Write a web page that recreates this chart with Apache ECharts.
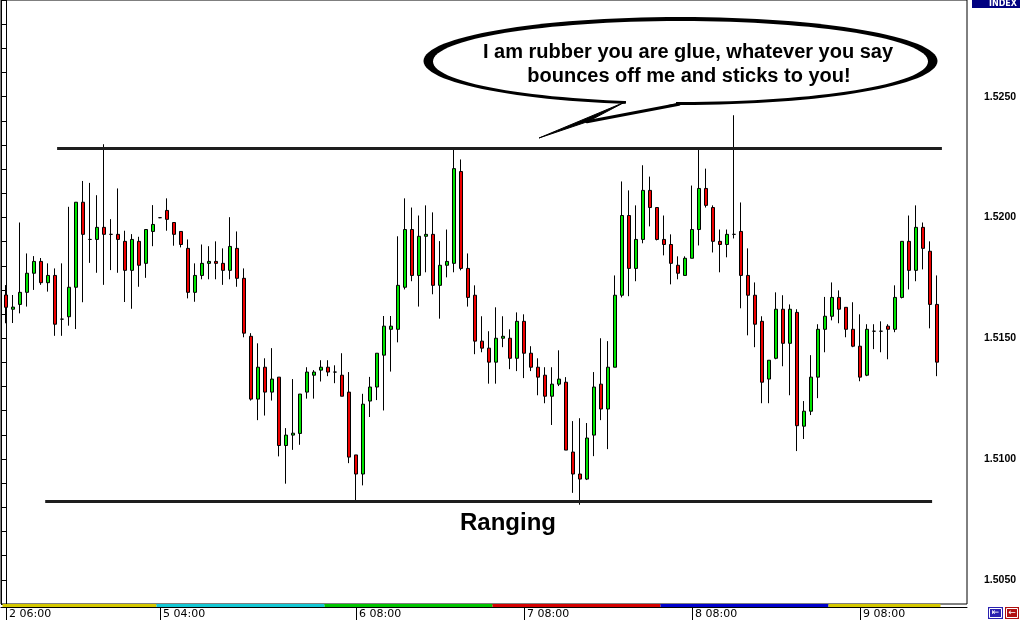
<!DOCTYPE html>
<html><head><meta charset="utf-8">
<script src="https://cdn.jsdelivr.net/npm/echarts@6/dist/echarts.min.js"></script>
<style>html,body{margin:0;padding:0;background:#fff}#c{width:1020px;height:620px}</style>
</head><body><div id="c"></div>
<script>
// ---- data (hourly candles) ----
const opens = [1.51679,1.51620,1.51640,1.51690,1.51769,1.51818,1.51730,1.51760,1.51579,1.51589,
1.51711,1.52063,1.51909,1.51909,1.51959,1.51930,1.51930,1.51901,1.51781,1.51901,
1.51810,1.51942,1.51999,1.52029,1.51979,1.51942,1.51872,1.51690,1.51760,1.51810,
1.51818,1.51810,1.51781,1.51872,1.51748,1.51508,1.51248,1.51380,1.51277,1.51339,
1.51056,1.51099,1.51106,1.51277,1.51347,1.51368,1.51380,1.51360,1.51347,1.51277,
1.51017,1.50938,1.51240,1.51298,1.51430,1.51537,1.51537,1.51711,1.51950,1.51760,
1.51922,1.51930,1.51719,1.51802,1.51810,1.52190,1.51789,1.51678,1.51488,1.51459,
1.51401,1.51500,1.51500,1.51417,1.51570,1.51438,1.51380,1.51347,1.51260,1.51310,
1.51318,1.51029,1.50938,1.50917,1.51099,1.51310,1.51207,1.51380,1.51678,1.52008,
1.51789,1.51909,1.52112,1.52041,1.51909,1.51888,1.51802,1.51760,1.51831,1.51950,
1.52120,1.52041,1.51901,1.51888,1.51930,1.51942,1.51760,1.51678,1.51570,1.51331,
1.51417,1.51620,1.51479,1.51607,1.51136,1.51198,1.51339,1.51537,1.51591,1.51669,
1.51628,1.51537,1.51467,1.51347,1.51529,1.51529,1.51550,1.51537,1.51669,1.51901,
1.51781,1.51959,1.51860,1.51640];
const highs = [1.51720,1.51679,1.51979,1.51851,1.51840,1.51832,1.51810,1.51789,1.51810,1.52044,
1.52063,1.52151,1.52143,1.52092,1.52303,1.51993,1.52120,1.51945,1.51931,1.51920,
1.51950,1.52051,1.52001,1.52079,1.51979,1.51942,1.51909,1.51810,1.51888,1.51881,
1.51901,1.51872,1.52001,1.51942,1.51789,1.51521,1.51479,1.51417,1.51459,1.51339,
1.51128,1.51331,1.51269,1.51380,1.51368,1.51409,1.51409,1.51388,1.51438,1.51360,
1.51017,1.51270,1.51340,1.51438,1.51592,1.51592,1.51922,1.52079,1.52041,1.52008,
1.52050,1.52021,1.51902,1.51950,1.52285,1.52240,1.51851,1.51719,1.51591,1.51529,
1.51628,1.51591,1.51537,1.51607,1.51599,1.51467,1.51417,1.51380,1.51380,1.51450,
1.51339,1.51157,1.51169,1.51149,1.51360,1.51500,1.51488,1.51760,1.52149,1.52112,
1.52050,1.52216,1.52169,1.52041,1.52008,1.51930,1.51839,1.51839,1.52132,1.52281,
1.52202,1.52050,1.51950,1.51950,1.52423,1.52062,1.51872,1.51731,1.51591,1.51409,
1.51690,1.51678,1.51640,1.51620,1.51240,1.51430,1.51558,1.51671,1.51731,1.51698,
1.51628,1.51649,1.51599,1.51558,1.51558,1.51570,1.51558,1.51719,1.51901,1.52008,
1.52050,1.51979,1.51901,1.51760];
const lows = [1.51562,1.51563,1.51603,1.51631,1.51700,1.51721,1.51693,1.51510,1.51510,1.51552,
1.51538,1.51649,1.51812,1.51771,1.51721,1.51782,1.51771,1.51650,1.51622,1.51713,
1.51750,1.51881,1.51997,1.51945,1.51883,1.51876,1.51665,1.51651,1.51744,1.51744,
1.51744,1.51721,1.51744,1.51713,1.51504,1.51242,1.51161,1.51180,1.51242,1.51011,
1.50898,1.51038,1.51059,1.51250,1.51250,1.51321,1.51343,1.51314,1.51260,1.50983,
1.50821,1.50891,1.51174,1.51244,1.51201,1.51362,1.51483,1.51702,1.51736,1.51631,
1.51773,1.51682,1.51581,1.51752,1.51773,1.51781,1.51631,1.51434,1.51442,1.51312,
1.51312,1.51463,1.51372,1.51364,1.51335,1.51364,1.51264,1.51231,1.51141,1.51302,
1.51037,1.50860,1.50811,1.50913,1.51012,1.51161,1.51041,1.51380,1.51669,1.51674,
1.51736,1.51893,1.51963,1.51905,1.51843,1.51723,1.51744,1.51760,1.51831,1.51884,
1.52041,1.51855,1.51773,1.51835,1.51913,1.51624,1.51512,1.51463,1.51231,1.51231,
1.51413,1.51384,1.51264,1.51033,1.51083,1.51182,1.51252,1.51442,1.51574,1.51562,
1.51504,1.51463,1.51322,1.51343,1.51455,1.51442,1.51413,1.51525,1.51665,1.51702,
1.51736,1.51785,1.51541,1.51343];
const closes = [1.51628,1.51629,1.51690,1.51769,1.51818,1.51730,1.51760,1.51558,1.51579,1.51711,
1.52063,1.51930,1.51909,1.51959,1.51930,1.51930,1.51909,1.51781,1.51909,1.51802,
1.51950,1.51971,1.51999,1.51992,1.51930,1.51888,1.51690,1.51760,1.51810,1.51818,
1.51810,1.51781,1.51880,1.51748,1.51521,1.51248,1.51380,1.51277,1.51331,1.51056,
1.51099,1.51107,1.51269,1.51360,1.51360,1.51380,1.51360,1.51360,1.51260,1.51008,
1.50938,1.51227,1.51298,1.51438,1.51550,1.51550,1.51719,1.51950,1.51760,1.51922,
1.51930,1.51719,1.51802,1.51818,1.52202,1.51789,1.51669,1.51488,1.51459,1.51401,
1.51500,1.51508,1.51417,1.51570,1.51438,1.51380,1.51339,1.51260,1.51310,1.51331,
1.51037,1.50938,1.50917,1.51087,1.51298,1.51207,1.51380,1.51678,1.52008,1.51789,
1.51909,1.52112,1.52041,1.51909,1.51888,1.51810,1.51769,1.51831,1.51950,1.52120,
1.52050,1.51901,1.51888,1.51930,1.51930,1.51760,1.51678,1.51558,1.51318,1.51409,
1.51620,1.51479,1.51620,1.51138,1.51198,1.51339,1.51537,1.51591,1.51669,1.51620,
1.51537,1.51467,1.51339,1.51537,1.51529,1.51529,1.51537,1.51669,1.51901,1.51781,
1.51959,1.51872,1.51640,1.51401];
const timeTickIndex = [0, 22, 50, 74, 98, 122];
const timeTickLabels = ['2 06:00', '5 04:00', '6 08:00', '7 08:00', '8 08:00', '9 08:00'];
const priceLabels = ['1.5050', '1.5100', '1.5150', '1.5200', '1.5250'];
const sessionFirst = [0, 22, 46, 70, 94, 118];
const sessionLast = [21, 45, 69, 93, 117, 133];
const resistanceLevel = 1.52285;
const supportLevel = 1.50827;
const bubbleLines = ['I am rubber you are glue, whatever you say', 'bounces off me and sticks to you!'];
const rangeLabel = 'Ranging';

// ---- chart ----
const sessionColors = ['#d4c800', '#14c8d4', '#00c400', '#d40000', '#0000cc', '#d4c800'];
const xMin = -5 / 7, xMax = -5 / 7 + 138;
const candleData = opens.map((o, i) => [i, o, closes[i], lows[i], highs[i]]);

const chart = echarts.init(document.getElementById('c'), null, { renderer: 'canvas' });
chart.setOption({
  animation: false,
  backgroundColor: '#fff',
  grid: [
    { left: 1, right: 53, top: 0, height: 604, show: true, borderColor: '#000', borderWidth: 1, backgroundColor: '#fff' },
    { left: 1, right: 53, top: 604, height: 3 }
  ],
  xAxis: [
    { type: 'value', gridIndex: 0, min: xMin, max: xMax, show: false },
    { type: 'value', gridIndex: 1, min: xMin, max: xMax, position: 'bottom',
      splitLine: { show: false },
      axisLine: { show: true, onZero: false, lineStyle: { color: '#000', width: 1 } },
      axisTick: { show: true, customValues: timeTickIndex, length: 13, lineStyle: { color: '#000' } },
      axisLabel: { show: true, customValues: timeTickIndex, align: 'left', margin: 2, padding: [0, 0, 0, 3],
        fontFamily: 'DejaVu Sans', fontSize: 11, color: '#000',
        formatter: v => { const k = timeTickIndex.indexOf(Math.round(v)); return k >= 0 ? timeTickLabels[k] : ''; } }
    }
  ],
  yAxis: [
    { type: 'value', gridIndex: 0, position: 'right', min: 1.504, max: 1.529, interval: 0.001,
      splitLine: { show: false },
      axisLine: { show: true, lineStyle: { color: '#000' } },
      axisTick: { show: true, inside: true, length: 4, lineStyle: { color: '#000' } },
      axisLabel: { margin: 17, color: '#000', fontFamily: 'Liberation Sans', fontWeight: 'bold', fontSize: 10.5,
        showMinLabel: true, showMaxLabel: true,
        formatter: v => { const s = v.toFixed(4); return priceLabels.indexOf(s) >= 0 ? s : ''; } } },
    { type: 'value', gridIndex: 0, position: 'left', min: 1.504, max: 1.529, interval: 0.001,
      splitLine: { show: false },
      axisLine: { show: true, lineStyle: { color: '#000' } },
      axisTick: { show: true, inside: true, length: 4, lineStyle: { color: '#000' } },
      axisLabel: { show: false } },
    { type: 'value', gridIndex: 1, min: 0, max: 1, show: false }
  ],
  series: [
    { type: 'candlestick', xAxisIndex: 0, yAxisIndex: 0, data: candleData,
      encode: { x: 0, y: [1, 2, 3, 4] },
      barWidth: 4,
      itemStyle: { color: '#00e400', color0: '#ee0000', borderColor: '#000', borderColor0: '#000', borderWidth: 1 },
      markLine: {
        silent: true, symbol: 'none', label: { show: false },
        lineStyle: { color: '#1e1e1e', width: 3, type: 'solid' },
        data: [
          [{ coord: [7.3, resistanceLevel] }, { coord: [133.7, resistanceLevel] }],
          [{ coord: [5.6, supportLevel] }, { coord: [132.3, supportLevel] }]
        ]
      }
    },
    { type: 'line', xAxisIndex: 1, yAxisIndex: 2, data: [], symbol: 'none', silent: true,
      markArea: { silent: true,
        data: sessionFirst.map((s, k) => [
          { xAxis: s - 0.5, yAxis: 0, itemStyle: { color: sessionColors[k] } },
          { xAxis: sessionLast[k] + 0.5, yAxis: 1 }
        ]) } }
  ],
  graphic: [
    { type: 'ellipse', z: 100, shape: { cx: 680.5, cy: 61, rx: 257, ry: 44 }, style: { fill: '#000' } },
    { type: 'ellipse', z: 102, shape: { cx: 680.5, cy: 61.5, rx: 247.5, ry: 40.5 }, style: { fill: '#fff' } },
    { type: 'polygon', z: 103, shape: { points: [[626, 96], [626, 103.5], [591, 119.5], [676, 103.5], [676, 96]] },
      style: { fill: '#fff' } },
    { type: 'polygon', z: 104, shape: { points: [[625, 102], [539, 138], [588, 121.5]] },
      style: { fill: '#000', stroke: '#000', lineWidth: 1, lineJoin: 'miter' } },
    { type: 'polyline', z: 104, shape: { points: [[587, 121.8], [679, 104.2]] },
      style: { stroke: '#000', lineWidth: 3, lineCap: 'round' } },
    { type: 'text', z: 105, x: 688, y: 52, style: { text: bubbleLines[0], font: 'bold 20px "Liberation Sans"', fill: '#000', align: 'center', verticalAlign: 'middle' } },
    { type: 'text', z: 105, x: 689, y: 76, style: { text: bubbleLines[1], font: 'bold 20px "Liberation Sans"', fill: '#000', align: 'center', verticalAlign: 'middle' } },
    { type: 'text', z: 105, x: 508, y: 523.5, style: { text: rangeLabel, font: 'bold 24px "Liberation Sans"', fill: '#000', align: 'center', verticalAlign: 'middle' } },
    { type: 'rect', z: 104, shape: { x: 972, y: 0, width: 48, height: 8 }, style: { fill: '#000080' } },
    { type: 'text', z: 105, x: 1017, y: 4, style: { text: 'INDEX', font: 'bold 8px "DejaVu Sans"', fill: '#fff', align: 'right', verticalAlign: 'middle' } },
    { type: 'rect', z: 104, shape: { x: 988, y: 607, width: 15, height: 12 }, style: { fill: '#2a22b0' } },
    { type: 'rect', z: 105, shape: { x: 989.5, y: 608.5, width: 12, height: 9 }, style: { fill: 'none', stroke: '#fff', lineWidth: 1 } },
    { type: 'text', z: 106, x: 995.5, y: 613, style: { text: '\u21E4', font: '9px "DejaVu Sans"', fill: '#fff', align: 'center', verticalAlign: 'middle' } },
    { type: 'rect', z: 104, shape: { x: 1005, y: 607, width: 14, height: 12 }, style: { fill: '#b01010' } },
    { type: 'rect', z: 105, shape: { x: 1006.5, y: 608.5, width: 11, height: 9 }, style: { fill: 'none', stroke: '#fff', lineWidth: 1 } },
    { type: 'text', z: 106, x: 1012, y: 613, style: { text: '\u2190', font: '9px "DejaVu Sans"', fill: '#fff', align: 'center', verticalAlign: 'middle' } }
  ]
});
</script></body></html>
